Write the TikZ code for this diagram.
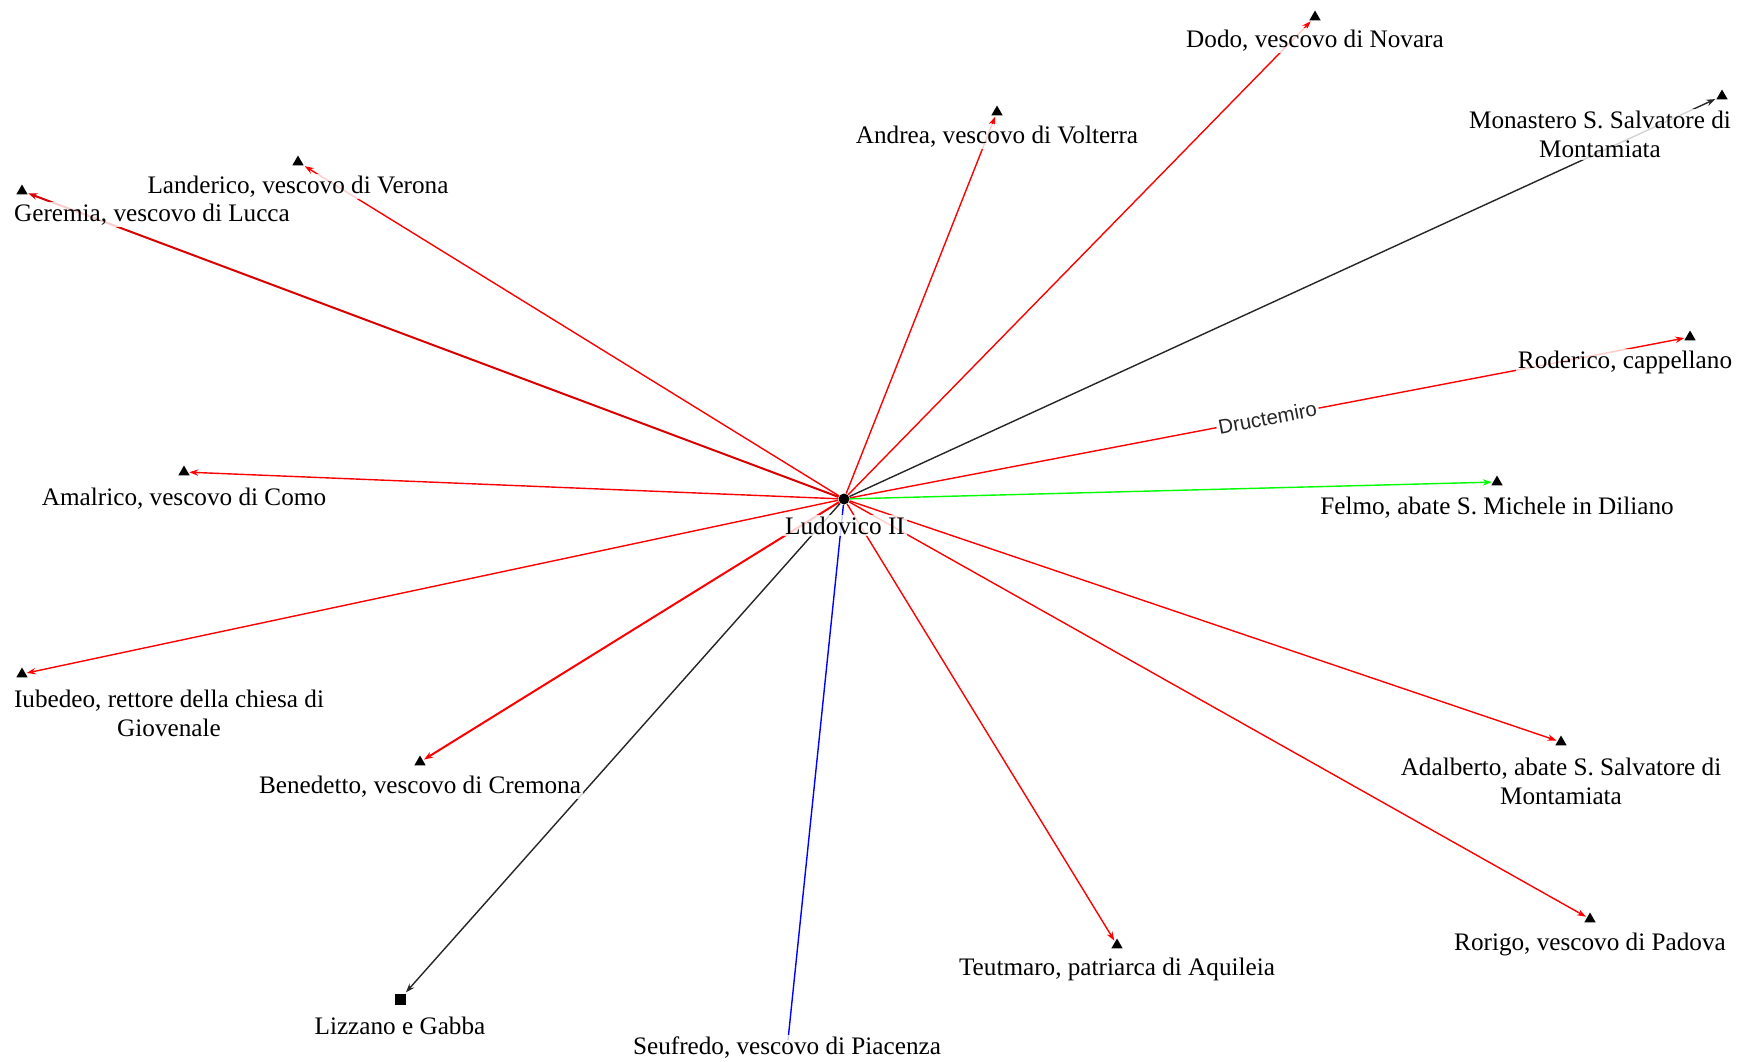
\documentclass[tikz,border=0pt]{standalone}
\usepackage{fontspec}
\setmainfont{Liberation Serif}
\newfontfamily\arialf{Liberation Sans}
\usetikzlibrary{arrows.meta,shapes.geometric}
\begin{document}
\begin{tikzpicture}[x=0.5pt,y=-0.5pt,
  tri/.style={regular polygon, regular polygon sides=3, fill=black, inner sep=0pt, minimum size=6.5pt},
  sq/.style={rectangle, fill=black, inner sep=0pt, minimum size=5.5pt},
  hub/.style={circle, fill=black, inner sep=0pt, minimum size=5.5pt},
  lbl/.style={font=\fontsize{12.6}{14.4}\selectfont, fill=white, fill opacity=0.8, text opacity=1, inner sep=1pt, align=center, yshift=-1.2pt},
  edge/.style={line width=0.7pt, -{Stealth[length=4.5pt,width=3.2pt]}, shorten >=0.5pt},
  elbl/.style={font=\arialf\fontsize{10.2}{12}\selectfont, text=black!85, fill=white, inner sep=1pt, sloped},
]
\useasboundingbox[fill=white] (0,0) rectangle (1739,1061);
% hub and target markers
\node[hub] (c) at (844,499) {};
\node[tri] (dodo) at (1315,17) {};
\node[tri] (andrea) at (997,112) {};
\node[tri] (mona) at (1722,96) {};
\node[tri] (land) at (298,162) {};
\node[tri] (ger) at (22,191) {};
\node[tri] (rod) at (1690,337) {};
\node[tri] (amal) at (184,472) {};
\node[tri] (felmo) at (1497,482) {};
\node[tri] (iub) at (22,674) {};
\node[tri] (bene) at (420,762) {};
\node[tri] (adal) at (1561,742) {};
\node[tri] (rori) at (1590,919) {};
\node[tri] (teut) at (1117,945) {};
\node[sq] (lizz) at (400,999) {};
\coordinate (seuf) at (788,1040);
% edges
\draw[edge, red] (c) -- (dodo);
\draw[edge, red] (c) -- (andrea);
\draw[edge, black!85] (c) -- (mona);
\draw[edge, red] (c) -- (land);
\draw[edge, red!85!black, line width=1pt] (c) -- (ger);
\draw[edge, red] (c) -- node[elbl] {Dructemiro} (rod);
\draw[edge, red] (c) -- (amal);
\draw[edge, green] (c) -- (felmo);
\draw[edge, red] (c) -- (iub);
\draw[edge, red, line width=1pt] (c) -- (bene);
\draw[edge, red] (c) -- (adal);
\draw[edge, red] (c) -- (rori);
\draw[edge, red] (c) -- (teut);
\draw[edge, black!85] (c) -- (lizz);
\draw[line width=0.7pt, blue] (c) -- (seuf);
% labels
\node[lbl] (Lc) at (845,523) {Ludovico II};
\node[lbl] (Ldodo) at (1315,38) {Dodo, vescovo di Novara};
\node[lbl] (Landrea) at (997,134) {Andrea, vescovo di Volterra};
\node[lbl] (Lmona) at (1600,132) {Monastero S. Salvatore di\\Montamiata};
\node[lbl] (Lland) at (298,184) {Landerico, vescovo di Verona};
\node[lbl] (Lger) at (152,212) {Geremia, vescovo di Lucca};
\node[lbl] (Lrod) at (1625,360) {Roderico, cappellano};
\node[lbl] (Lamal) at (184,496) {Amalrico, vescovo di Como};
\node[lbl] (Lfelmo) at (1497,505) {Felmo, abate S. Michele in Diliano};
\node[lbl] (Liub) at (169,711) {Iubedeo, rettore della chiesa di\\Giovenale};
\node[lbl] (Lbene) at (420,784) {Benedetto, vescovo di Cremona};
\node[lbl] (Ladal) at (1561,779) {Adalberto, abate S. Salvatore di\\Montamiata};
\node[lbl] (Lrori) at (1590,942) {Rorigo, vescovo di Padova};
\node[lbl] (Lteut) at (1117,967) {Teutmaro, patriarca di Aquileia};
\node[lbl] (Llizz) at (400,1023) {Lizzano e Gabba};
\node[lbl] (Lseuf) at (787,1045) {Seufredo, vescovo di Piacenza};
\end{tikzpicture}
\end{document}
